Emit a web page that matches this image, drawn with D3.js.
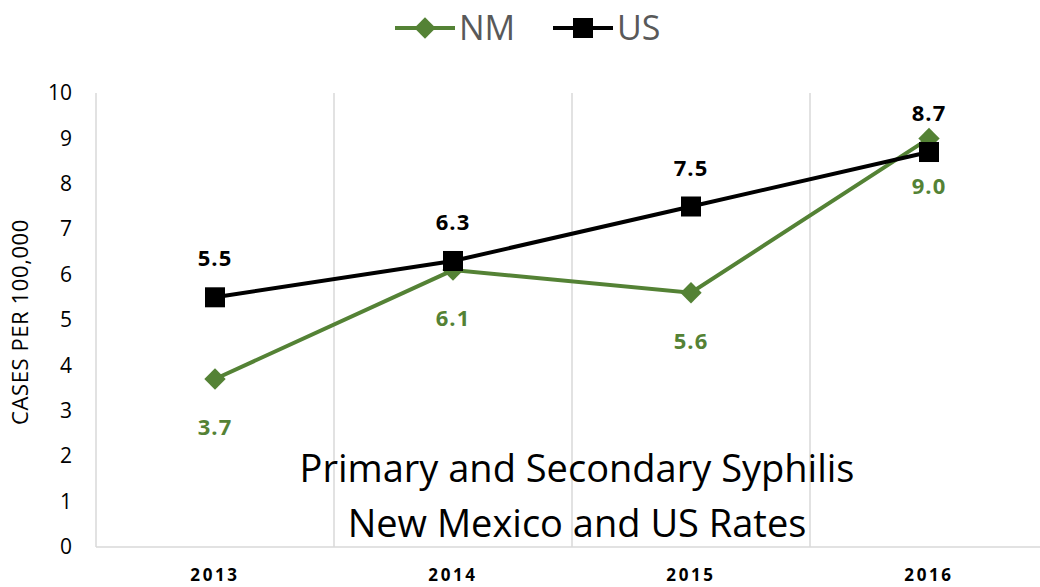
<!DOCTYPE html>
<html>
<head>
<meta charset="utf-8">
<script src="https://cdn.jsdelivr.net/npm/d3@7"></script>
<style>
    body { margin: 0; background: #fff; }
    svg { display: block; font-family: "Open Sans", "Noto Sans", sans-serif; }
</style>
</head>
<body>
<svg id="chart" width="1040" height="587"></svg>
<script>
// 数据
const years = ["2013", "2014", "2015", "2016"];
const nmValues = [3.7, 6.1, 5.6, 9.0];
const usValues = [5.5, 6.3, 7.5, 8.7];
const yTicks = [0, 1, 2, 3, 4, 5, 6, 7, 8, 9, 10];
const titleLines = ["Primary and Secondary Syphilis", "New Mexico and US Rates"];

const green = "#548235";
const svg = d3.select("#chart");

const plotLeft = 96, plotRight = 1048, plotTop = 93, plotBottom = 547;

const x = d3.scaleBand().domain(years).range([plotLeft, plotRight]);
const y = d3.scaleLinear().domain([0, 10]).range([plotBottom, plotTop]);

// 竖向网格线
svg.append("g")
    .selectAll("line")
    .data(years.slice(1))
    .enter()
    .append("line")
    .attr("x1", d => x(d))
    .attr("x2", d => x(d))
    .attr("y1", plotTop)
    .attr("y2", plotBottom)
    .attr("stroke", "#d9d9d9")
    .attr("stroke-width", 1.5);

// 坐标轴线
svg.append("line")
    .attr("x1", plotLeft).attr("x2", plotLeft)
    .attr("y1", plotTop).attr("y2", plotBottom)
    .attr("stroke", "#d9d9d9").attr("stroke-width", 1.5);
svg.append("line")
    .attr("x1", plotLeft).attr("x2", plotRight)
    .attr("y1", plotBottom).attr("y2", plotBottom)
    .attr("stroke", "#d9d9d9").attr("stroke-width", 1.5);

// y轴刻度
const yAxis = svg.append("g")
    .attr("transform", `translate(${plotLeft - 24},0)`)
    .call(d3.axisLeft(y).tickValues(yTicks).tickSize(0).tickPadding(0));
yAxis.select(".domain").remove();
yAxis.selectAll("text")
    .attr("font-size", 21)
    .attr("font-family", "Open Sans, sans-serif")
    .attr("fill", "#000");

// x轴刻度
const xAxis = svg.append("g")
    .attr("transform", `translate(0,${plotBottom})`)
    .call(d3.axisBottom(x).tickSize(0).tickPadding(0));
xAxis.select(".domain").remove();
xAxis.selectAll("text")
    .attr("y", 34)
    .attr("dy", 0)
    .attr("font-size", 17)
    .attr("font-weight", "bold")
    .attr("letter-spacing", 2.6)
    .attr("font-family", "Open Sans, sans-serif")
    .attr("fill", "#000");

// y轴标题
svg.append("text")
    .attr("transform", `translate(28,${(plotTop + plotBottom) / 2 + 2}) rotate(-90)`)
    .attr("text-anchor", "middle")
    .attr("font-size", 22)
    .attr("letter-spacing", 0.6)
    .attr("fill", "#000")
    .text("CASES PER 100,000");

// 图内标题
svg.append("g")
    .selectAll("text")
    .data(titleLines)
    .enter()
    .append("text")
    .attr("x", 577)
    .attr("y", (d, i) => 482 + i * 55)
    .attr("text-anchor", "middle")
    .attr("font-size", 38)
    .attr("fill", "#000")
    .text(d => d);

const cx = d => x(d) + x.bandwidth() / 2;
const line = d3.line().x(d => cx(d.year)).y(d => y(d.v));

const nmData = years.map((yr, i) => ({ year: yr, v: nmValues[i] }));
const usData = years.map((yr, i) => ({ year: yr, v: usValues[i] }));

const diamond = d3.symbol().type(d3.symbolDiamond2).size(290);

// NM 折线
svg.append("path")
    .datum(nmData)
    .attr("d", line)
    .attr("fill", "none")
    .attr("stroke", green)
    .attr("stroke-width", 4);
svg.append("g")
    .selectAll("path")
    .data(nmData)
    .enter()
    .append("path")
    .attr("d", diamond)
    .attr("transform", d => `translate(${cx(d.year)},${y(d.v)})`)
    .attr("fill", green);

// US 折线
svg.append("path")
    .datum(usData)
    .attr("d", line)
    .attr("fill", "none")
    .attr("stroke", "#000")
    .attr("stroke-width", 4);
svg.append("g")
    .selectAll("rect")
    .data(usData)
    .enter()
    .append("rect")
    .attr("x", d => cx(d.year) - 10)
    .attr("y", d => y(d.v) - 10)
    .attr("width", 20)
    .attr("height", 20)
    .attr("fill", "#000");

// 数据标签
svg.append("g")
    .selectAll("text")
    .data(usData)
    .enter()
    .append("text")
    .attr("x", d => cx(d.year))
    .attr("y", d => y(d.v) - 31)
    .attr("text-anchor", "middle")
    .attr("font-size", 22)
    .attr("letter-spacing", 1)
    .attr("font-weight", "bold")
    .attr("fill", "#000")
    .text(d => d.v.toFixed(1));

svg.append("g")
    .selectAll("text")
    .data(nmData)
    .enter()
    .append("text")
    .attr("x", d => cx(d.year))
    .attr("y", d => y(d.v) + 56)
    .attr("text-anchor", "middle")
    .attr("font-size", 22)
    .attr("letter-spacing", 1)
    .attr("font-weight", "bold")
    .attr("fill", green)
    .text(d => d.v.toFixed(1));

// 图例
const legend = svg.append("g");
legend.append("line")
    .attr("x1", 395).attr("x2", 455).attr("y1", 28).attr("y2", 28)
    .attr("stroke", green).attr("stroke-width", 4);
legend.append("path")
    .attr("d", diamond)
    .attr("transform", "translate(425,28)")
    .attr("fill", green);
legend.append("text")
    .attr("x", 459).attr("y", 40)
    .attr("font-size", 34)
    .attr("fill", "#595959")
    .text("NM");
legend.append("line")
    .attr("x1", 553).attr("x2", 613).attr("y1", 28).attr("y2", 28)
    .attr("stroke", "#000").attr("stroke-width", 4);
legend.append("rect")
    .attr("x", 573).attr("y", 18).attr("width", 20).attr("height", 20)
    .attr("fill", "#000");
legend.append("text")
    .attr("x", 617).attr("y", 40)
    .attr("font-size", 34)
    .attr("fill", "#595959")
    .text("US");
</script>
</body>
</html>
